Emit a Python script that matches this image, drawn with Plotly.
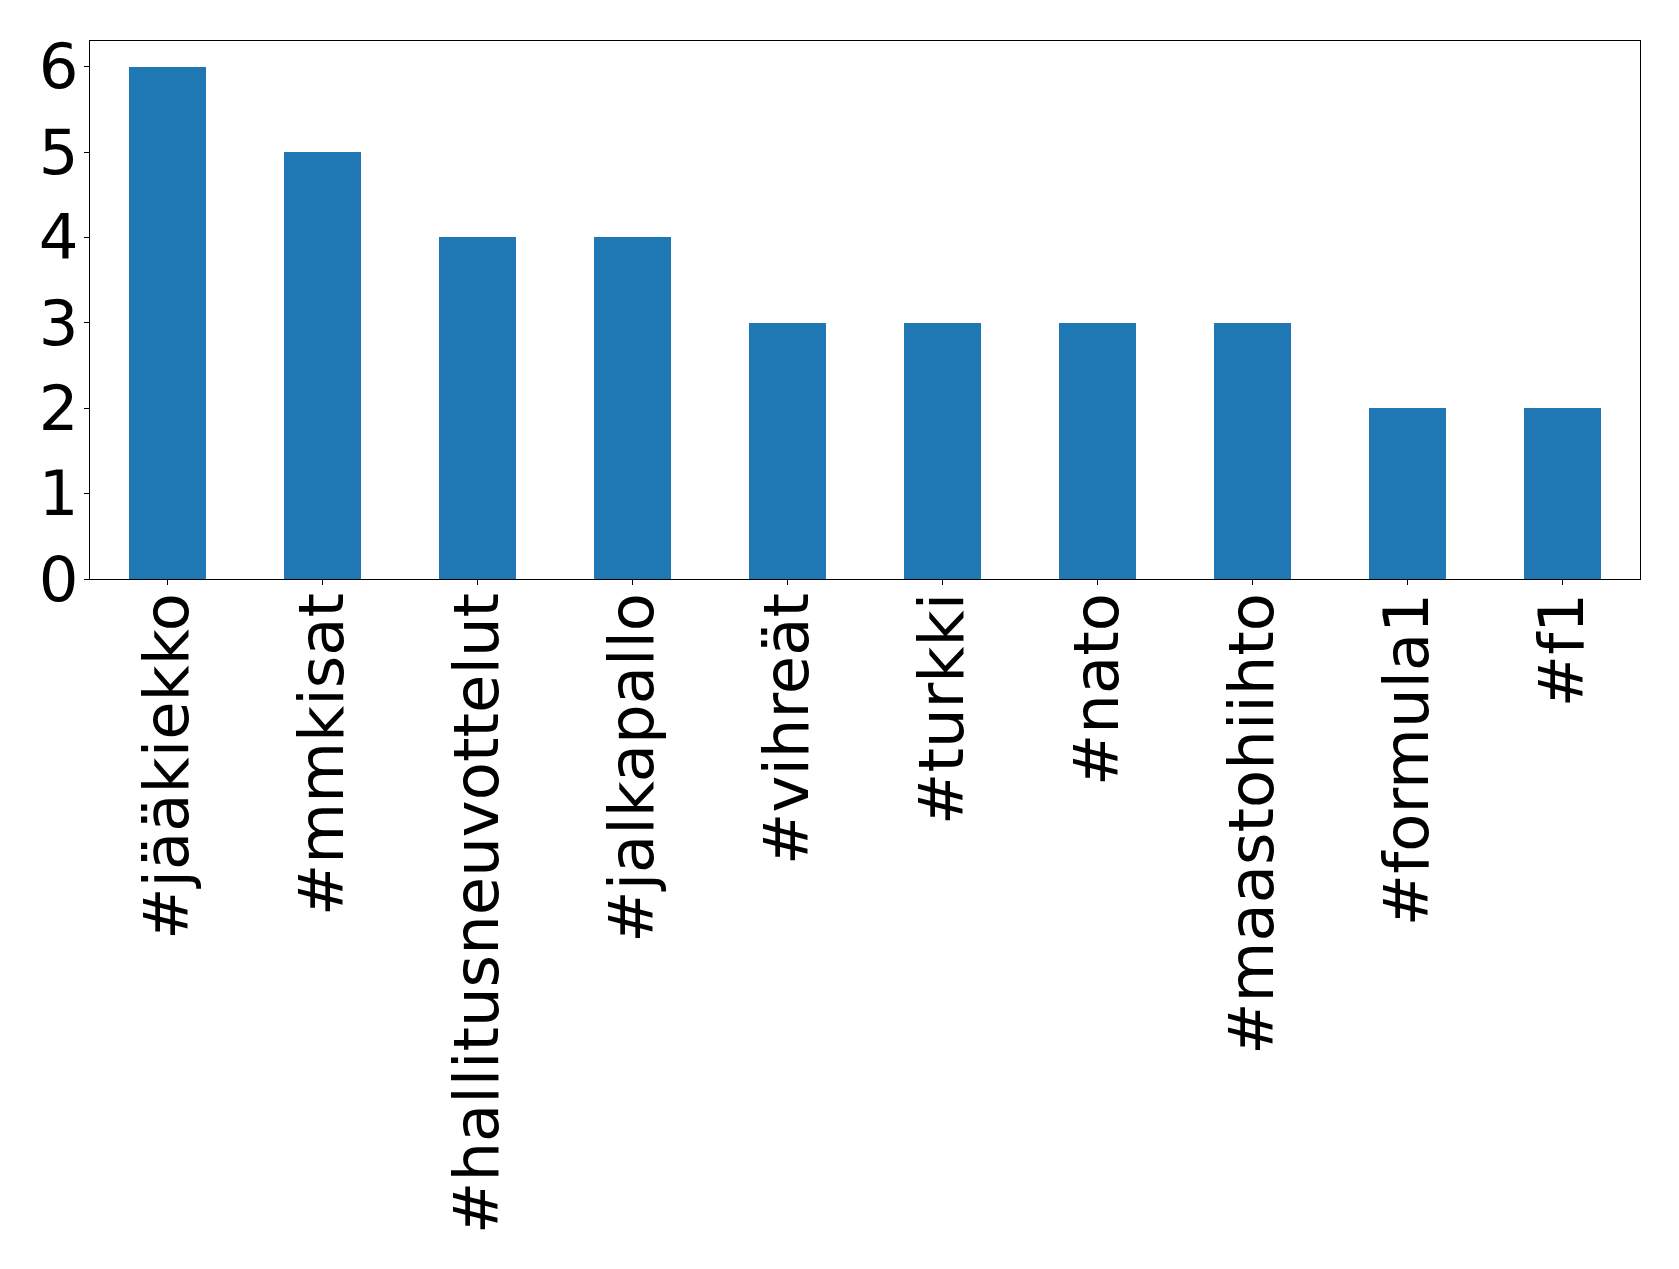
import plotly.graph_objects as go

categories = ["#jääkiekko", "#mmkisat", "#hallitusneuvottelut", "#jalkapallo", "#vihreät",
              "#turkki", "#nato", "#maastohiihto", "#formula1", "#f1"]
counts = [6, 5, 4, 4, 3, 3, 3, 3, 2, 2]
y_ticks = [0, 1, 2, 3, 4, 5, 6]

fig = go.Figure(go.Bar(x=categories, y=counts, width=0.5, marker=dict(color="#1f77b4", line=dict(width=0))))

fig.update_layout(
    width=1679, height=1269,
    margin=dict(l=82, r=47, t=33, b=698),
    paper_bgcolor="white", plot_bgcolor="white",
    font=dict(family="DejaVu Sans", size=62.5, color="black"),
    showlegend=False,
    bargap=0,
)
fig.update_xaxes(
    range=[-0.5, 9.5], tickangle=-90, ticks="outside", ticklen=5, tickwidth=1, tickcolor="black",
    showline=True, linecolor="black", linewidth=1, mirror=True, showgrid=False,
    ticklabelstandoff=-17,
)
fig.update_yaxes(
    range=[0, 6.3], tickvals=y_ticks, ticks="outside", ticklen=5, tickwidth=1, tickcolor="black",
    showline=True, linecolor="black", linewidth=1, mirror=True, showgrid=False, zeroline=False,
    ticklabelstandoff=-7,
)
fig.write_html("out.html")
